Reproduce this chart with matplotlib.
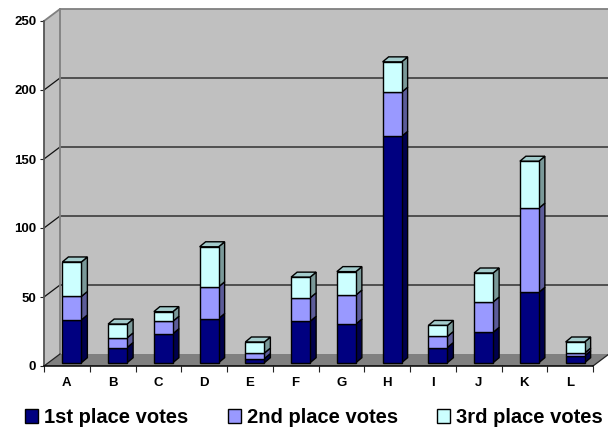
import matplotlib
matplotlib.use("Agg")
import matplotlib.pyplot as plt
from matplotlib.patches import Polygon
from matplotlib.transforms import Affine2D

plt.rcParams['font.family'] = ['Liberation Sans', 'DejaVu Sans']

categories = ['A', 'B', 'C', 'D', 'E', 'F', 'G', 'H', 'I', 'J', 'K', 'L']
first_place = [31, 11, 21, 32, 3, 30, 28, 164, 11, 22, 51, 5]
second_place = [17, 7, 9, 23, 4, 17, 21, 32, 8, 22, 61, 2]
third_place = [25, 10, 7, 29, 8, 15, 17, 22, 8, 21, 34, 8]
series_names = ['1st place votes', '2nd place votes', '3rd place votes']
y_ticks = [0, 50, 100, 150, 200, 250]

front_cols = ['#000080', '#9999FF', '#CCFFFF']
side_cols = ['#00004D', '#5C5C99', '#7A9999']
top_cols = ['#000066', '#7A7ACC', '#A3CCCC']

W, H = 608, 428
fig = plt.figure(figsize=(W / 100, H / 100), dpi=100, facecolor='white')
L, R, T, B = 44, 593, 21, 366
ax = fig.add_axes([L / W, (H - B) / H, (R - L) / W, (B - T) / H])
ax.set_xlim(-0.5, 11.5)
ax.set_ylim(0, 250)
ax.patch.set_visible(False)

px_x = (R - L) / 12
px_y = (B - T) / 250
BX, BY = 16 / px_x, 12 / px_y      # wall depth in data units
DX, DY = 6 / px_x, 5 / px_y        # bar depth in data units
x0, x1 = -0.5, 11.5

# walls and floor
ax.add_patch(Polygon([(x0 + BX, BY), (x1 + BX, BY), (x1 + BX, 250 + BY), (x0 + BX, 250 + BY)],
                     fc='#C0C0C0', ec='none', clip_on=False, zorder=0))
ax.add_patch(Polygon([(x0, 0), (x0 + BX, BY), (x0 + BX, 250 + BY), (x0, 250)],
                     fc='#C0C0C0', ec='none', clip_on=False, zorder=0))
ax.add_patch(Polygon([(x0, 0), (x1, 0), (x1 + BX, BY), (x0 + BX, BY)],
                     fc='#808080', ec='none', clip_on=False, zorder=0.5))
for v in y_ticks[1:-1]:
    ax.plot([x0, x0 + BX, x1 + BX], [v, v + BY, v + BY], color='#111111', lw=0.9,
            clip_on=False, zorder=1, solid_joinstyle='miter')
ax.plot([x0, x0 + BX, x1 + BX], [250, 250 + BY, 250 + BY], color='#808080', lw=1.3,
        clip_on=False, zorder=1)
ax.plot([x0 + BX, x0 + BX], [BY, 250 + BY], color='#808080', lw=1.3, clip_on=False, zorder=1)
ax.plot([x0, x0 + BX], [0, BY], color='#222222', lw=0.9, clip_on=False, zorder=1)
ax.plot([x1, x1 + BX], [0, BY], color='#222222', lw=0.9, clip_on=False, zorder=1)

# bars
bar_tf = Affine2D().translate(5, 3.3)
tf = ax.transData + bar_tf
w = 19 / px_x
xs = list(range(len(categories)))
bottoms = [0] * len(xs)
handles = []
for k, (vals, name) in enumerate(zip([first_place, second_place, third_place], series_names)):
    bc = ax.bar(xs, vals, width=w, bottom=bottoms, color=front_cols[k], edgecolor='black',
                linewidth=1.0, transform=tf, clip_on=False, zorder=3, label=name)
    handles.append(bc)
    for x, v, b in zip(xs, vals, bottoms):
        xr, xl, t = x + w / 2, x - w / 2, b + v
        ax.add_patch(Polygon([(xr, b), (xr + DX, b + DY), (xr + DX, t + DY), (xr, t)],
                             fc=side_cols[k], ec='black', lw=1.0, transform=tf,
                             clip_on=False, zorder=2.5))
        if k == 2:
            ax.add_patch(Polygon([(xl, t), (xr, t), (xr + DX, t + DY), (xl + DX, t + DY)],
                                 fc=top_cols[k], ec='black', lw=1.0, transform=tf,
                                 clip_on=False, zorder=2.5))
    bottoms = [b + v for b, v in zip(bottoms, vals)]

# axes
for s in ['top', 'right']:
    ax.spines[s].set_visible(False)
ax.spines['left'].set_color('#555555')
ax.spines['left'].set_linewidth(1.3)
ax.spines['bottom'].set_color('black')
ax.spines['bottom'].set_linewidth(1.1)
for sp in ax.spines.values():
    sp.set_zorder(4)
ax.set_yticks(y_ticks)
ax.set_yticklabels([str(v) for v in y_ticks], fontsize=9.5, fontweight='bold')
ax.tick_params(axis='y', length=3, width=0.8, pad=2.5, color='#222222')
ax.set_xticks(xs)
ax.set_xticklabels(categories, fontsize=9.5, fontweight='bold')
ax.tick_params(axis='x', which='major', length=0, pad=8)
ax.set_xticks([i - 0.5 for i in range(len(xs) + 1)], minor=True)
ax.tick_params(axis='x', which='minor', length=4, width=0.8, color='#222222')

fig.legend(handles=handles, loc='lower left', bbox_to_anchor=(25 / W, 1 / H), ncol=3,
           frameon=False, prop={'size': 14.5, 'weight': 'bold'}, handlelength=0.65,
           handleheight=0.65, handletextpad=0.3, columnspacing=1.95, borderpad=0,
           borderaxespad=0)

fig.savefig('out.png', dpi=100, facecolor='white')
